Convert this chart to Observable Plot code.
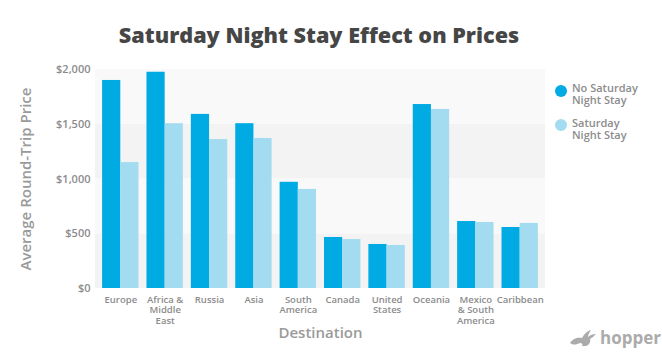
<!DOCTYPE html>
<html><head><meta charset="utf-8">
<script src="https://cdn.jsdelivr.net/npm/d3@7"></script>
<script src="https://cdn.jsdelivr.net/npm/@observablehq/plot@0.6"></script>
<style>
body{margin:0;background:#fff;font-family:"Open Sans",sans-serif;}
#wrap{position:relative;width:662px;height:355px;}
#title{position:absolute;left:0;top:20px;width:638px;text-align:center;font-size:21.6px;font-weight:800;color:#464646;line-height:30px;}
.leg{position:absolute;left:572px;font-size:11px;font-weight:600;color:#8c8c8c;line-height:12px;}
.dot{position:absolute;width:12px;height:12px;border-radius:50%;}
#logo{position:absolute;left:569px;top:326px;display:flex;align-items:center;color:#ababab;font-weight:700;font-size:17px;}
</style></head>
<body><div id="wrap">
<div id="title">Saturday Night Stay Effect on Prices</div>
<div class="dot" style="left:555px;top:85px;background:#00aae3"></div>
<div class="leg" style="top:82px">No Saturday<br>Night Stay</div>
<div class="dot" style="left:555px;top:119px;background:#a3dcf0"></div>
<div class="leg" style="top:117px">Saturday<br>Night Stay</div>
<div id="logo"><svg width="28" height="18" viewBox="0 0 28 18"><path d="M1 14 C4 9 9 8 13 9 C15 5 18 2 22 1 C20 4 19 6 19 8 C21 6 24 5 27 5 C25 7 23 9 21 10 C22 13 20 16 17 17 L13 17 C14 15 13 14 11 14 C8 15 5 17 1 14 Z" fill="#ababab"/></svg><span style="margin-left:3px">hopper</span></div>
</div>
<script>
const destinations = ["Europe","Africa & Middle East","Russia","Asia","South America","Canada","United States","Oceania","Mexico & South America","Caribbean"];
const tickLabels = ["Europe","Africa &\nMiddle\nEast","Russia","Asia","South\nAmerica","Canada","United\nStates","Oceania","Mexico\n& South\nAmerica","Caribbean"];
const noSaturdayStay = [1900,1975,1590,1505,970,466,402,1680,612,557];
const saturdayStay = [1150,1505,1360,1370,905,447,393,1635,603,594];
const yTicks = [0,500,1000,1500,2000];
const bandStarts = [0,500,1000,1500];
const bandFills = ["#f3f3f3","#f9f9f9","#f3f3f3","#f9f9f9"];

const rows = destinations.map((d,i)=>({dest:d, noSat:noSaturdayStay[i], sat:saturdayStay[i]}));
const bands = bandStarts.map((s,i)=>({y1:s, y2:s+500, fill:bandFills[i]}));
const labelOf = new Map(destinations.map((d,i)=>[d,tickLabels[i]]));

const W=662,H=355,mL=95,mR=117,mT=69,mB=67,pI=0.18,pO=0.16;
const bw = d3.scaleBand().domain(destinations).range([mL,W-mR]).paddingInner(pI).paddingOuter(pO).bandwidth();

const chart = Plot.plot({
  width:W, height:H, marginLeft:mL, marginRight:mR, marginTop:mT, marginBottom:mB,
  style:{fontFamily:"'Open Sans',sans-serif", background:"transparent"},
  x:{domain:destinations, paddingInner:pI, paddingOuter:pO, round:false, axis:null},
  y:{domain:[0,2000], axis:null},
  marks:[
    Plot.rectY(bands,{y1:"y1",y2:"y2",fill:"fill"}),
    Plot.barY(rows,{x:"dest",y:"noSat",fill:"#00aae3",insetRight:bw/2}),
    Plot.barY(rows,{x:"dest",y:"sat",fill:"#a3dcf0",insetLeft:bw/2}),
    Plot.axisX({tickSize:0, tickPadding:7, tickFormat:d=>labelOf.get(d), fontSize:9.5, fill:"#8c8c8c", fontWeight:600, label:null, lineHeight:1.1}),
    Plot.axisY({ticks:yTicks, tickSize:0, tickPadding:5, tickFormat:d=>"$"+d3.format(",")(d), fontSize:11, fill:"#8c8c8c", fontWeight:600, label:null}),
    Plot.text(["Average Round-Trip Price"],{frameAnchor:"left", textAnchor:"middle", rotate:-90, dx:-69, fontSize:15, fill:"#9a9a9a", fontWeight:600}),
    Plot.text(["Destination"],{frameAnchor:"bottom", dy:49, fontSize:15, fill:"#9a9a9a", fontWeight:600})
  ]
});
chart.style.position="absolute"; chart.style.left="0"; chart.style.top="0";
document.getElementById("wrap").prepend(chart);
</script>
</body></html>
